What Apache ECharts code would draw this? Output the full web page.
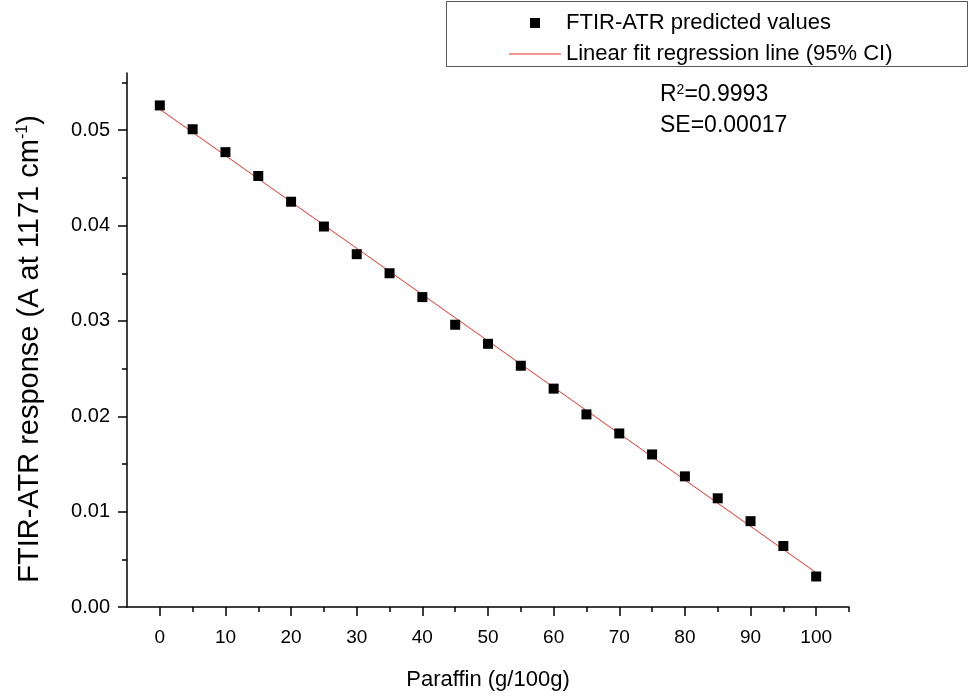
<!DOCTYPE html>
<html>
<head>
<meta charset="utf-8">
<script src="https://cdn.jsdelivr.net/npm/echarts@6/dist/echarts.min.js"></script>
<style>html,body{margin:0;padding:0;background:#fff}#c{width:974px;height:698px}</style>
</head>
<body>
<div id="c"></div>
<script>
const paraffin = [0,5,10,15,20,25,30,35,40,45,50,55,60,65,70,75,80,85,90,95,100];
const response = [0.0526,0.0501,0.0477,0.0452,0.0425,0.0399,0.0370,0.0350,0.0325,0.0296,0.0276,0.0253,0.0229,0.0202,0.0182,0.0160,0.0137,0.0114,0.0090,0.0064,0.0032];
const fitX = [0, 100];
const fitY = [0.0522, 0.0036];
const xMajorTicks = [0,10,20,30,40,50,60,70,80,90,100];
const xMinorTicks = [5,15,25,35,45,55,65,75,85,95,105];
const yMajorTicks = [0,0.01,0.02,0.03,0.04,0.05];
const yMinorTicks = [0.005,0.015,0.025,0.035,0.045,0.055];
const seriesNames = ['FTIR-ATR predicted values', 'Linear fit regression line (95% CI)'];
const statR2 = '0.9993';
const statSE = '0.00017';
const xTitle = 'Paraffin (g/100g)';
const yTitle = 'FTIR-ATR response (A at 1171 cm{sup|-1})';

const FONT = 'Liberation Sans, Arial, Helvetica, sans-serif';
const chart = echarts.init(document.getElementById('c'), null, {renderer: 'canvas'});
function axisLine(show) {
  return {show: show, onZero: false, lineStyle: {color: '#000', width: 1.5}};
}
chart.setOption({
  animation: false,
  backgroundColor: '#fff',
  textStyle: {fontFamily: FONT},
  grid: {left: 127, right: 125, top: 73, bottom: 91, containLabel: false},
  legend: {
    orient: 'vertical', left: 509, top: 12, padding: 0, itemGap: 9,
    itemWidth: 52, itemHeight: 10, symbolKeepAspect: true,
    textStyle: {fontFamily: FONT, fontSize: 22, color: '#000'},
    data: [
      {name: seriesNames[0], icon: 'path://M0,0H10V10H0Z'},
      {name: seriesNames[1], icon: 'path://M0,0H52V1.2H0Z'}
    ]
  },
  xAxis: [
    {
      type: 'value', min: -5, max: 105, position: 'bottom', splitLine: {show: false},
      axisLine: axisLine(true),
      axisTick: {show: true, length: 9, customValues: xMajorTicks, lineStyle: {color: '#000', width: 1.5}},
      axisLabel: {show: true, customValues: xMajorTicks, fontSize: 19, color: '#000', margin: 21, fontFamily: FONT},
      name: xTitle, nameLocation: 'middle', nameGap: 62,
      nameTextStyle: {fontSize: 22, color: '#000', fontFamily: FONT}
    },
    {
      type: 'value', min: -5, max: 105, position: 'bottom', splitLine: {show: false},
      axisLine: axisLine(false),
      axisTick: {show: true, length: 5, customValues: xMinorTicks, lineStyle: {color: '#000', width: 1.5}},
      axisLabel: {show: false}
    }
  ],
  yAxis: [
    {
      type: 'value', min: 0, max: 0.056, position: 'left', splitLine: {show: false},
      axisLine: axisLine(true),
      axisTick: {show: true, length: 9, customValues: yMajorTicks, lineStyle: {color: '#000', width: 1.5}},
      axisLabel: {show: true, customValues: yMajorTicks, fontSize: 20, color: '#000', margin: 17, fontFamily: FONT,
        formatter: v => Number(v).toFixed(2)},
      name: yTitle, nameLocation: 'middle', nameGap: 83,
      nameTextStyle: {fontSize: 29, color: '#000', fontFamily: FONT, padding: [0, 18, 0, 0],
        rich: {sup: {fontSize: 16, verticalAlign: 'top', color: '#000', fontFamily: FONT, padding: [0, 0, 10, 0]}}}
    },
    {
      type: 'value', min: 0, max: 0.056, position: 'left', splitLine: {show: false},
      axisLine: axisLine(false),
      axisTick: {show: true, length: 5, customValues: yMinorTicks, lineStyle: {color: '#000', width: 1.5}},
      axisLabel: {show: false}
    }
  ],
  graphic: [
    {type: 'rect', shape: {x: 446.5, y: 1.5, width: 521, height: 65}, style: {fill: 'none', stroke: '#555', lineWidth: 1}, silent: true, z: 1},
    {type: 'text', x: 660, y: 95, style: {text: '{a|R}{s|2}{a|=' + statR2 + '}', verticalAlign: 'middle',
      rich: {a: {fontSize: 23, fontFamily: FONT, fill: '#000'}, s: {fontSize: 14, fontFamily: FONT, fill: '#000', verticalAlign: 'top', padding: [0,0,9,0]}}}},
    {type: 'text', x: 660, y: 125.5, style: {text: 'SE=' + statSE, verticalAlign: 'middle', fontSize: 23, fontFamily: FONT, fill: '#000'}}
  ],
  series: [
    {
      name: seriesNames[1], type: 'line', xAxisIndex: 0, yAxisIndex: 0,
      data: fitX.map((x, i) => [x, fitY[i]]), symbol: 'none',
      lineStyle: {color: '#e8302a', width: 1}, itemStyle: {color: '#e8302a'}, z: 2
    },
    {
      name: seriesNames[0], type: 'scatter', xAxisIndex: 0, yAxisIndex: 0,
      data: paraffin.map((x, i) => [x, response[i]]), symbol: 'rect', symbolSize: 10,
      itemStyle: {color: '#000', opacity: 1}, z: 3
    }
  ]
});
</script>
</body>
</html>
